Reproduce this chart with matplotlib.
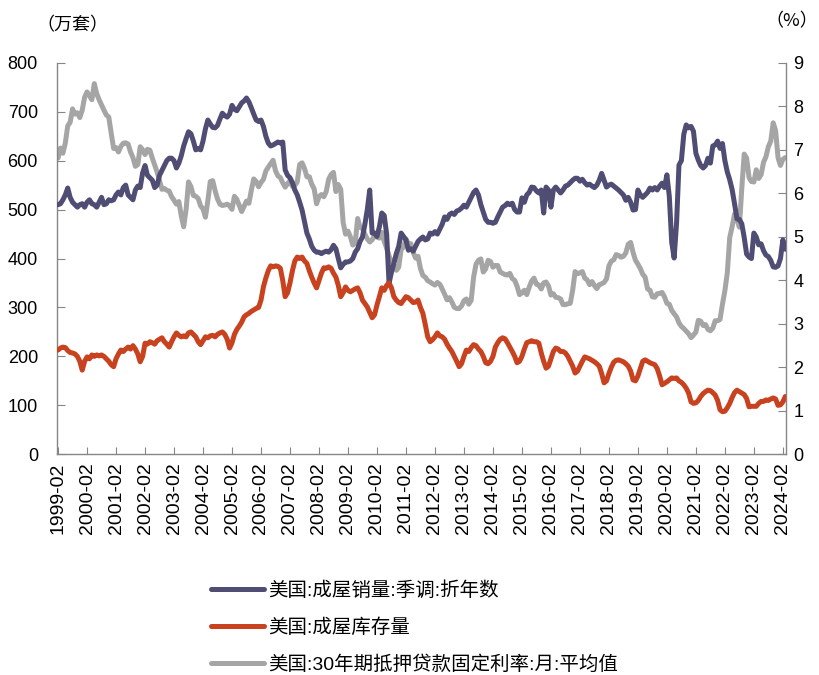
import numpy as np
import matplotlib
matplotlib.use("Agg")
import matplotlib.pyplot as plt

plt.rcParams['font.family'] = ['Liberation Sans', 'Noto Sans CJK SC', 'DejaVu Sans']

# 月度数据: 1999-02 ~ 2024-03
start = "1999-02"
n_months = 302

# 美国:成屋销量:季调:折年数 (万套)
sales = [
    510, 512, 520, 530, 544, 525, 515, 510, 505, 510, 512,            # 1999 (2-12)
    505, 515, 520, 512, 510, 505, 515, 525, 510, 512, 520, 518,       # 2000
    520, 530, 536, 530, 545, 550, 530, 525, 520, 540, 548, 545,       # 2001
    575, 590, 570, 565, 560, 545, 550, 570, 580, 590, 600, 605,       # 2002
    605, 600, 585, 595, 610, 630, 645, 659, 655, 640, 622, 625,       # 2003
    622, 640, 665, 683, 675, 668, 667, 672, 685, 697, 692, 689,       # 2004
    695, 713, 705, 702, 710, 718, 722, 728, 720, 708, 695, 683,       # 2005
    680, 683, 670, 650, 636, 630, 632, 635, 638, 636, 638, 581,       # 2006
    570, 565, 555, 540, 530, 515, 499, 475, 452, 440, 425, 417,       # 2007
    413, 413, 410, 413, 415, 413, 418, 427, 420, 400, 381, 388,       # 2008
    393, 393, 395, 400, 413, 420, 435, 444, 470, 500, 540, 452,       # 2009
    452, 445, 465, 493, 488, 450, 350, 372, 390, 410, 425, 452,       # 2010
    445, 438, 417, 420, 415, 425, 435, 440, 444, 438, 440, 452,       # 2011
    450, 455, 450, 460, 470, 485, 480, 490, 493, 490, 497, 499,       # 2012
    503, 509, 505, 515, 525, 535, 540, 530, 510, 495, 480, 474,       # 2013
    474, 472, 474, 485, 495, 505, 508, 513, 510, 513, 500, 495,       # 2014
    495, 524, 515, 530, 535, 546, 545, 538, 534, 540, 493, 546,       # 2015
    540, 505, 540, 546, 540, 534, 540, 548, 550, 555, 560, 564,       # 2016
    564, 558, 562, 555, 550, 552, 548, 545, 550, 560, 574, 560,       # 2017
    546, 550, 552, 548, 544, 540, 535, 530, 519, 525, 515, 499,       # 2018
    500, 540, 530, 525, 530, 535, 544, 540, 545, 540, 548, 554,       # 2019
    545, 571, 527, 433, 401, 472, 591, 600, 654, 673, 667, 670,       # 2020
    660, 615, 601, 590, 585, 590, 605, 595, 630, 632, 640, 625,       # 2021
    635, 600, 577, 561, 541, 512, 481, 480, 471, 443, 409, 403,       # 2022
    400, 452, 444, 428, 430, 416, 407, 404, 396, 383, 382, 385,       # 2023
    400, 438, 419,                                                    # 2024 (1-3)
]

# 美国:成屋库存量 (万套)
inventory = [
    213, 217, 219, 218, 212, 208, 207, 205, 200, 190, 172,
    190, 199, 195, 203, 200, 203, 201, 203, 200, 195, 190, 183,
    179, 195, 205, 213, 210, 215, 219, 215, 222, 215, 205, 189,
    200, 227, 225, 230, 228, 225, 232, 235, 238, 230, 225, 219,
    230, 240, 248, 243, 240, 242, 240, 248, 250, 245, 240, 230,
    224, 232, 240, 238, 242, 243, 240, 245, 248, 250, 245, 235,
    217, 228, 245, 255, 262, 270, 281, 285, 288, 292, 295, 298,
    300, 315, 342, 360, 375, 385, 383, 385, 384, 380, 355, 322,
    330, 350, 375, 395, 403, 400, 403, 395, 390, 375, 362, 350,
    340, 355, 370, 381, 380, 383, 380, 370, 362, 345, 322, 330,
    342, 335, 332, 335, 338, 340, 330, 315, 308, 301, 290, 279,
    285, 305, 322, 340, 335, 345, 350, 340, 322, 315, 310, 308,
    315, 322, 320, 315, 310, 311, 315, 300, 288, 265, 240, 230,
    234, 240, 248, 242, 240, 235, 225, 217, 210, 200, 190, 179,
    185, 200, 213, 210, 218, 224, 222, 215, 210, 200, 187, 185,
    190, 200, 219, 228, 235, 238, 236, 228, 219, 210, 200, 187,
    190, 200, 215, 228, 230, 232, 230, 230, 227, 207, 190, 176,
    180, 195, 210, 217, 215, 210, 210, 207, 200, 190, 180, 166,
    170, 180, 190, 199, 197, 195, 192, 189, 185, 180, 165, 146,
    150, 165, 178, 188, 192, 193, 191, 189, 185, 180, 170, 152,
    150, 160, 175, 190, 193, 190, 187, 185, 183, 175, 160, 142,
    145, 148, 152, 156, 155, 156, 150, 147, 142, 135, 125, 107,
    104, 105, 110, 118, 124, 128, 131, 130, 126, 121, 110, 91,
    87, 88, 95, 104, 116, 126, 131, 128, 125, 122, 114, 97,
    98, 98, 98, 104, 108, 108, 111, 110, 113, 115, 113, 100,
    101, 107, 118,
]

# 美国:30年期抵押贷款固定利率:月:平均值 (%)
rate = [
    6.81, 7.04, 6.92, 7.15, 7.55, 7.63, 7.94, 7.82, 7.85, 7.74, 7.91,
    8.21, 8.33, 8.24, 8.15, 8.52, 8.29, 8.15, 8.03, 7.91, 7.80, 7.75, 7.38,
    7.03, 7.05, 6.95, 7.08, 7.15, 7.16, 7.13, 6.95, 6.82, 6.62, 6.66, 7.07,
    7.00, 6.89, 7.01, 6.99, 6.81, 6.65, 6.49, 6.29, 6.09, 6.11, 6.07, 6.05,
    5.92, 5.84, 5.75, 5.81, 5.48, 5.23, 5.63, 6.26, 6.15, 5.95, 5.93, 5.88,
    5.71, 5.64, 5.45, 5.83, 6.27, 6.29, 6.06, 5.87, 5.75, 5.72, 5.73, 5.75,
    5.71, 5.63, 5.93, 5.86, 5.72, 5.58, 5.70, 5.82, 5.77, 6.07, 6.33, 6.27,
    6.15, 6.25, 6.32, 6.51, 6.60, 6.68, 6.76, 6.52, 6.40, 6.36, 6.24, 6.14,
    6.22, 6.29, 6.16, 6.18, 6.26, 6.66, 6.70, 6.57, 6.38, 6.38, 6.21, 6.10,
    5.76, 5.92, 5.97, 5.92, 6.04, 6.32, 6.43, 6.48, 6.04, 6.20, 6.09, 5.33,
    5.06, 5.13, 5.00, 4.81, 4.86, 5.42, 5.22, 5.19, 5.06, 4.95, 4.88, 4.93,
    5.03, 4.99, 4.97, 5.10, 4.89, 4.74, 4.56, 4.43, 4.35, 4.23, 4.30, 4.71,
    4.76, 4.95, 4.84, 4.84, 4.64, 4.51, 4.55, 4.27, 4.11, 4.07, 3.99, 3.96,
    3.92, 3.89, 3.95, 3.91, 3.80, 3.68, 3.55, 3.60, 3.50, 3.38, 3.35, 3.35,
    3.41, 3.53, 3.57, 3.45, 3.54, 4.07, 4.37, 4.46, 4.49, 4.19, 4.26, 4.46,
    4.43, 4.30, 4.34, 4.34, 4.19, 4.16, 4.13, 4.12, 4.16, 4.04, 4.00, 3.86,
    3.67, 3.71, 3.77, 3.67, 3.84, 3.98, 4.05, 3.91, 3.89, 3.80, 3.94, 3.96,
    3.87, 3.66, 3.69, 3.61, 3.60, 3.57, 3.44, 3.44, 3.46, 3.47, 3.77, 4.20,
    4.15, 4.17, 4.20, 4.05, 4.01, 3.90, 3.97, 3.88, 3.81, 3.90, 3.92, 3.95,
    4.03, 4.33, 4.44, 4.47, 4.59, 4.57, 4.53, 4.55, 4.63, 4.83, 4.87, 4.64,
    4.46, 4.37, 4.27, 4.14, 4.07, 3.80, 3.77, 3.62, 3.61, 3.69, 3.70, 3.72,
    3.62, 3.47, 3.45, 3.31, 3.23, 3.16, 3.02, 2.94, 2.89, 2.83, 2.77, 2.68,
    2.74, 2.81, 3.08, 3.06, 2.96, 2.98, 2.87, 2.84, 2.90, 3.07, 3.07, 3.10,
    3.45, 3.76, 4.17, 4.98, 5.23, 5.52, 5.41, 5.22, 6.11, 6.90, 6.81, 6.36,
    6.27, 6.26, 6.54, 6.34, 6.43, 6.71, 6.84, 7.07, 7.20, 7.62, 7.44, 6.82,
    6.64, 6.78, 6.82,
]

labels = ["美国:成屋销量:季调:折年数", "美国:成屋库存量", "美国:30年期抵押贷款固定利率:月:平均值"]
colors = ["#504D74", "#C8421F", "#A5A5A5"]

months = np.arange(n_months)
dates = np.arange(np.datetime64(start), np.datetime64(start) + n_months, dtype="datetime64[M]")
tick_pos = np.arange(0, n_months, 12)
tick_labels = [str(d) for d in dates[tick_pos]]

fig = plt.figure(figsize=(8.19, 6.75), dpi=100)
ax = fig.add_axes([0.070, 0.327, 0.890, 0.580])
ax2 = ax.twinx()

lw = 3.6
l1, = ax.plot(months, sales, color=colors[0], lw=lw, solid_capstyle="round", zorder=3)
l2, = ax.plot(months, inventory, color=colors[1], lw=lw, solid_capstyle="round", zorder=3)
l3, = ax2.plot(months, rate, color=colors[2], lw=lw, solid_capstyle="round", zorder=2)
ax.set_zorder(ax2.get_zorder() + 1)
ax.patch.set_visible(False)

ax.set_xlim(-0.3, 301.4)
ax.set_ylim(0, 800)
ax2.set_ylim(0, 9)
ax.set_yticks(np.arange(0, 801, 100))
ax2.set_yticks(np.arange(0, 10, 1))
ax.set_xticks(tick_pos)
ax.set_xticklabels(tick_labels, rotation=90)

spine_c = "#868686"
for a in (ax, ax2):
    for s in a.spines.values():
        s.set_color(spine_c)
        s.set_linewidth(1.0)
    a.spines["top"].set_visible(False)
ax.spines["right"].set_visible(False)
ax2.spines["left"].set_visible(False)
ax2.spines["bottom"].set_visible(False)

ax.tick_params(axis="y", direction="in", length=6, color=spine_c, labelsize=13, pad=14)
ax.tick_params(axis="x", direction="in", length=5, color=spine_c, labelsize=14, pad=6)
ax2.tick_params(axis="y", direction="in", length=6, color=spine_c, labelsize=13, pad=5)

fig.text(0.045, 0.963, "（万套）", fontsize=13, family=["Noto Sans CJK SC"], va="center")
fig.text(0.935, 0.968, "（%）", fontsize=13, family=["Noto Sans CJK SC"], va="center")

fig.legend([l1, l2, l3], labels, loc="upper left", bbox_to_anchor=(0.258, 0.139),
           frameon=False, handlelength=2.7, handletextpad=0.25,
           labelspacing=0.95, borderpad=0, borderaxespad=0,
           prop={"family": ["Liberation Sans", "Noto Sans CJK SC"], "size": 14})

fig.savefig("out.png", dpi=100)
